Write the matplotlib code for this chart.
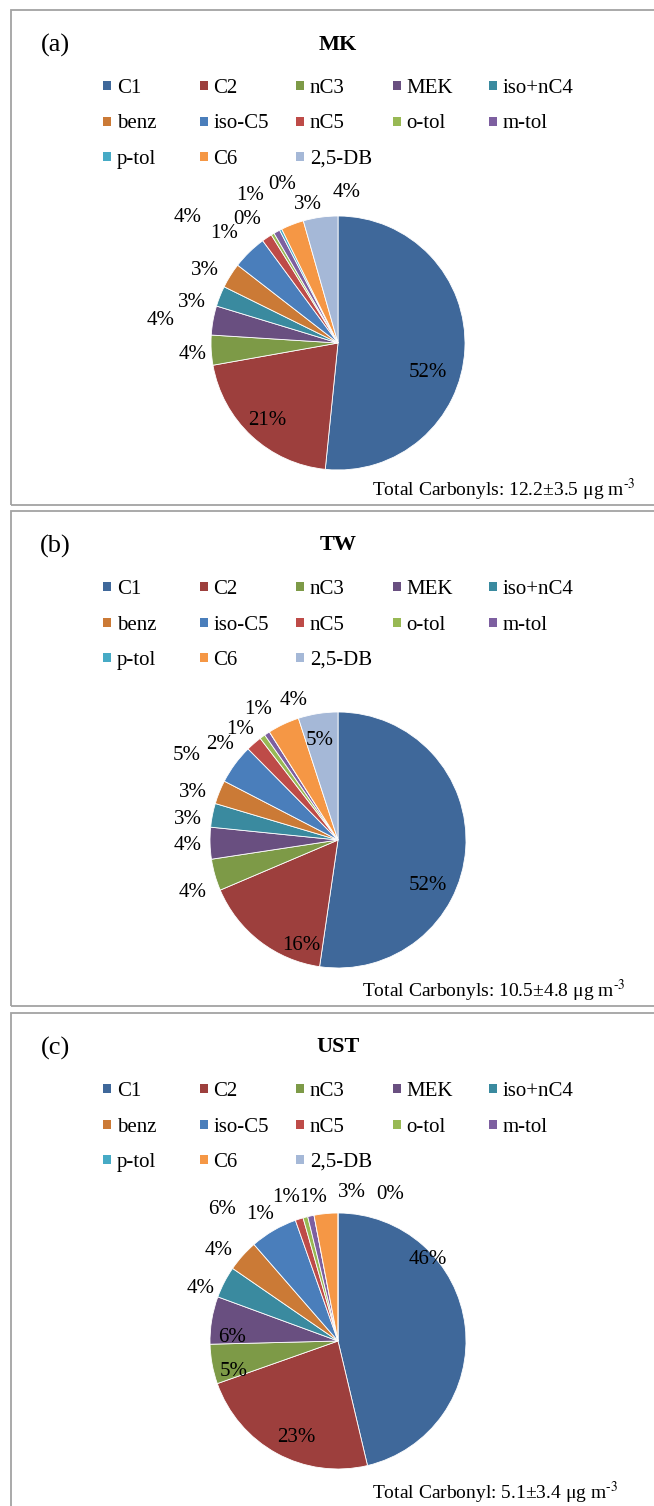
import matplotlib
matplotlib.use("Agg")
import matplotlib.pyplot as plt
from matplotlib.patches import Rectangle
import numpy as np

plt.rcParams['font.family'] = ['Liberation Serif', 'DejaVu Serif']
plt.rcParams['mathtext.fontset'] = 'stix'

species = ["C1", "C2", "nC3", "MEK", "iso+nC4", "benz", "iso-C5",
           "nC5", "o-tol", "m-tol", "p-tol", "C6", "2,5-DB"]
colors = ["#3F689A", "#9D3F3D", "#7D9A47", "#694F80", "#3A8A9F", "#CB7A36", "#4A7EBB",
          "#BE4B48", "#98B954", "#7D5FA0", "#46AAC5", "#F59745", "#A5B8D7"]

# carbonyl shares (%) at each site
mk_share = [51.6, 20.6, 3.8, 3.7, 2.6, 3.2, 4.4, 1.3, 0.4, 0.8, 0.3, 2.9, 4.4]
tw_share = [52.3, 16.3, 4.0, 4.0, 3.0, 3.0, 5.0, 2.0, 0.7, 0.7, 0.0, 4.0, 5.0]
ust_share = [46.3, 23.3, 5.0, 6.0, 4.0, 4.0, 6.0, 1.0, 0.6, 0.8, 0.0, 3.0, 0.0]

W, H = 654, 1506
fig = plt.figure(figsize=(W / 100, H / 100), dpi=100)


def fx(px):
    return px / W


def fy(py):
    return 1 - py / H


def DrawPanel(top, tag, site, shares, total_text, total_x, cy, r, label_style):
    """
    One site panel: frame, titles, legend, pie and percent labels.
    label_style: (show, radial factor, dx, dy) for each wedge, dx/dy in pixels
    """
    fig.add_artist(Rectangle((fx(11), fy(top + 495)), fx(700) - fx(11), 495 / H,
                             transform=fig.transFigure, fill=False,
                             edgecolor="#a3a3a3", lw=1.3))
    fig.text(fx(55), fy(top + 33), tag, fontsize=19, ha="center", va="center_baseline")
    fig.text(fx(338), fy(top + 32), site, fontsize=16, fontweight="bold",
             ha="center", va="center_baseline")

    # legend, 5 per row
    for i, name in enumerate(species):
        row, col = divmod(i, 5)
        x = 103 + 96.5 * col
        y = top + 76 + 35.5 * row
        fig.add_artist(Rectangle((fx(x), fy(y + 4)), 8 / W, 9 / H,
                                 transform=fig.transFigure, color=colors[i], lw=0))
        fig.text(fx(x + 14), fy(y), name, fontsize=15, ha="left", va="center_baseline")

    ax = fig.add_axes([fx(338 - r), fy(cy + r), 2 * r / W, 2 * r / H])
    wedges, _ = ax.pie(shares, colors=colors, startangle=90, counterclock=False,
                       radius=1, wedgeprops=dict(edgecolor="white", linewidth=0.6))
    ax.set_aspect("auto")
    ax.set_xlim(-1, 1)
    ax.set_ylim(-1, 1)

    total = sum(shares)
    for w, v, (show, f, dx, dy) in zip(wedges, shares, label_style):
        if not show:
            continue
        th = np.deg2rad((w.theta1 + w.theta2) / 2)
        px = 338 + f * r * np.cos(th) + dx
        py = cy - f * r * np.sin(th) + dy
        fig.text(fx(px), fy(py), "{}%".format(int(100 * v / total + 0.5)),
                 fontsize=15, ha="center", va="center_baseline")

    fig.text(fx(total_x), fy(top + 477), total_text, fontsize=14,
             ha="left", va="center_baseline")


mk_labels = [(1, 0.7, 1, 23), (1, 0.7, -10, 10), (1, 1.15, 0, 1), (1, 1.15, -34, 1),
             (1, 1.15, -10, 11), (1, 1.15, -9, 2), (1, 1.15, -48, -23), (1, 1.15, -32, 9),
             (1, 1.15, -16, -1), (1, 1.15, -18, -22), (1, 1.15, 10, -31), (1, 1.15, 22, -5),
             (1, 1.15, 29, -8)]
tw_labels = [(1, 0.7, 1, 37), (1, 0.7, 18, 32), (1, 1.15, -4, 10), (1, 1.15, -3, -1),
             (1, 1.15, -6, 5), (1, 1.15, -9, 5), (1, 1.15, -33, 0), (1, 1.15, -21, 13),
             (1, 1.15, -11, 6), (1, 1.15, 2, -10), (0, 1.15, 0, 0), (1, 1.15, 18, -9),
             (1, 0.8, -2, -1)]
ust_labels = [(1, 0.7, 1, -74), (1, 0.7, 1, 15), (1, 0.8, -4, 9), (1, 0.8, -5, 11),
              (1, 1.15, -7, 13), (1, 1.15, -10, 5), (1, 1.15, -42, -7), (1, 1.15, -33, 11),
              (1, 1.15, -14, -4), (1, 1.15, 6, -2), (0, 1.15, 0, 0), (1, 1.15, 28, -4),
              (1, 1.15, 52, -2)]

DrawPanel(10, "(a)", "MK", mk_share,
          "Total Carbonyls: 12.2\u00b13.5 \u03bcg m$^{\\text{-3}}$", 372, 343, 127, mk_labels)
DrawPanel(511, "(b)", "TW", tw_share,
          "Total Carbonyls: 10.5\u00b14.8 \u03bcg m$^{\\text{-3}}$", 362, 840, 128, tw_labels)
DrawPanel(1013, "(c)", "UST", ust_share,
          "Total Carbonyl: 5.1\u00b13.4 \u03bcg m$^{\\text{-3}}$", 372, 1341, 128, ust_labels)

fig.savefig("out.png", dpi=100)
